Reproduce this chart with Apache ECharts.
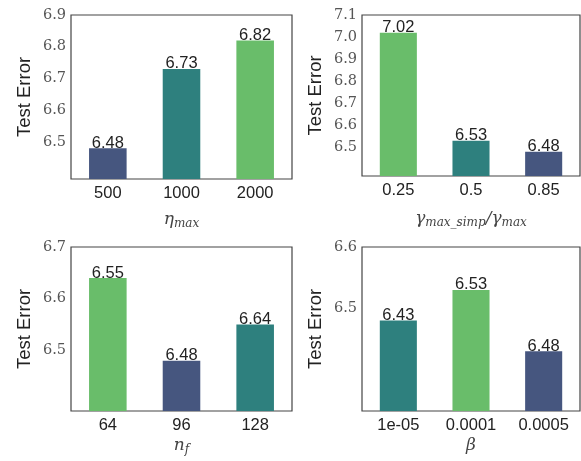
<!DOCTYPE html>
<html>
<head>
<meta charset="utf-8">
<script src="https://cdn.jsdelivr.net/npm/echarts@6/dist/echarts.min.js"></script>
<style>
  html, body { margin: 0; padding: 0; background: #fff; }
  #chart { width: 581px; height: 461px; }
</style>
</head>
<body>
<div id="chart"></div>
<script>
// panel data (bar heights and the printed labels, which differ in the bottom row)
const etaCats = ['500', '1000', '2000'];
const etaVals = [6.48, 6.73, 6.82];
const etaLabels = ['6.48', '6.73', '6.82'];
const etaTicks = [6.5, 6.6, 6.7, 6.8, 6.9];

const gammaCats = ['0.25', '0.5', '0.85'];
const gammaVals = [7.02, 6.53, 6.48];
const gammaLabels = ['7.02', '6.53', '6.48'];
const gammaTicks = [6.5, 6.6, 6.7, 6.8, 6.9, 7.0, 7.1];

const nfCats = ['64', '96', '128'];
const nfVals = [6.64, 6.48, 6.55];
const nfLabels = ['6.55', '6.48', '6.64'];
const nfTicks = [6.5, 6.6, 6.7];

const betaCats = ['1e-05', '0.0001', '0.0005'];
const betaVals = [6.48, 6.53, 6.43];
const betaLabels = ['6.43', '6.53', '6.48'];
const betaTicks = [6.5, 6.6];

const navy = '#46567f';
const teal = '#2e807e';
const green = '#69bd6a';

const panels = [
  { cats: etaCats, vals: etaVals, labels: etaLabels, ticks: etaTicks, colors: [navy, teal, green],
    min: 6.383, max: 6.9, grid: { left: 71, top: 15, width: 221, height: 164 },
    name: '{m|η}{s|max}', nameGap: 30 },
  { cats: gammaCats, vals: gammaVals, labels: gammaLabels, ticks: gammaTicks, colors: [green, teal, navy],
    min: 6.3695, max: 7.1, grid: { left: 362, top: 15, width: 218, height: 161 },
    name: '{m|γ}{s|max_simp}{m|/γ}{s|max}', nameGap: 32 },
  { cats: nfCats, vals: nfVals, labels: nfLabels, ticks: nfTicks, colors: [green, navy, teal],
    min: 6.3826, max: 6.7, grid: { left: 71, top: 247, width: 221, height: 164 },
    name: '{m|n}{s|f}', nameGap: 24 },
  { cats: betaCats, vals: betaVals, labels: betaLabels, ticks: betaTicks, colors: [teal, green, navy],
    min: 6.3325, max: 6.6, grid: { left: 362, top: 247, width: 218, height: 164 },
    name: '{m|β}', nameGap: 26 }
];

const grids = [], xAxes = [], yAxes = [], series = [];
panels.forEach(function (p, i) {
  grids.push(Object.assign({ show: true, borderColor: '#444', borderWidth: 1.2, backgroundColor: '#fff' }, p.grid));
  xAxes.push({
    type: 'category', gridIndex: i, data: p.cats,
    axisLine: { show: false }, axisTick: { show: false },
    axisLabel: { color: '#222', fontSize: 16.5, fontFamily: 'Liberation Sans', margin: 6 },
    name: p.name, nameLocation: 'middle', nameGap: p.nameGap,
    nameTextStyle: {
      rich: {
        m: { fontFamily: 'DejaVu Serif', fontStyle: 'italic', fontSize: 17, color: '#444' },
        s: { fontFamily: 'DejaVu Serif', fontStyle: 'italic', fontSize: 12, color: '#444', padding: [9, 0, 0, 0] }
      }
    }
  });
  yAxes.push({
    type: 'value', gridIndex: i, min: p.min, max: p.max,
    splitLine: { show: false }, axisLine: { show: false }, axisTick: { show: false },
    axisLabel: {
      customValues: p.ticks, color: '#555', fontSize: 14.5, fontFamily: 'DejaVu Serif', margin: 5,
      formatter: function (v) { return v.toFixed(1); }
    },
    name: 'Test Error', nameLocation: 'middle', nameGap: 37, nameRotate: 90,
    nameTextStyle: { color: '#222', fontSize: 18.5, fontFamily: 'Liberation Sans' }
  });
  series.push({
    type: 'bar', xAxisIndex: i, yAxisIndex: i, barWidth: '51%',
    data: p.vals.map(function (v, k) {
      return { value: v, itemStyle: { color: p.colors[k] } };
    }),
    label: {
      show: true, position: 'top', distance: -3.5, color: '#222', fontSize: 16.5, fontFamily: 'Liberation Sans',
      formatter: function (d) { return p.labels[d.dataIndex]; }
    }
  });
});

const chart = echarts.init(document.getElementById('chart'));
chart.setOption({
  animation: false,
  backgroundColor: '#fff',
  grid: grids, xAxis: xAxes, yAxis: yAxes, series: series
});
</script>
</body>
</html>
